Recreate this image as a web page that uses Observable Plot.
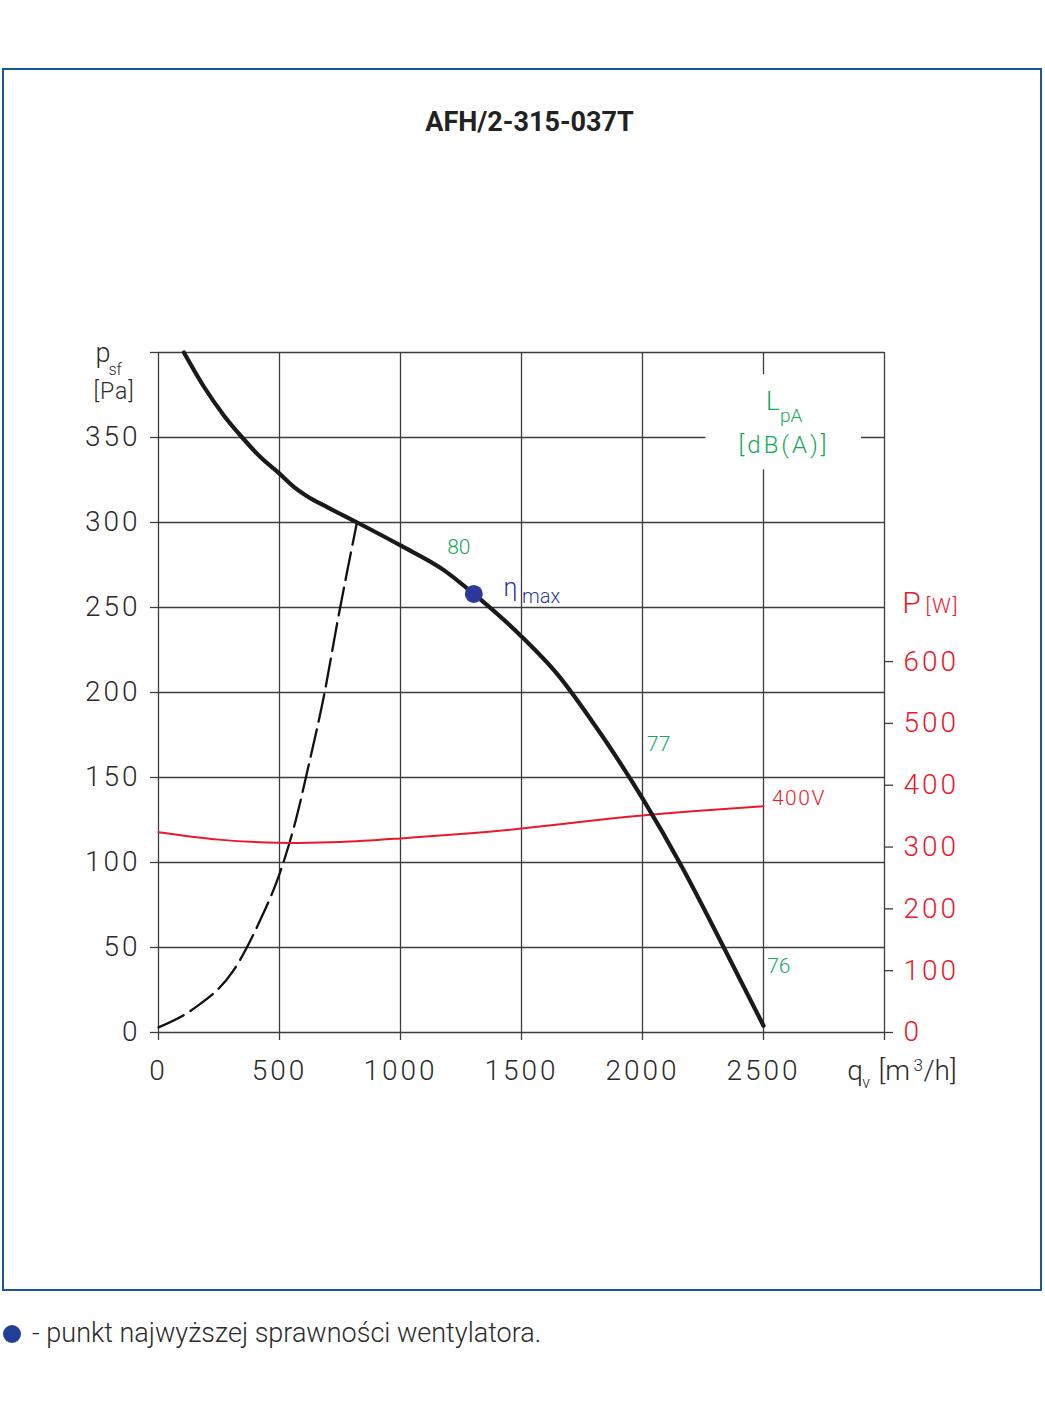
<!DOCTYPE html>
<html>
<head>
<meta charset="utf-8">
<script src="https://cdn.jsdelivr.net/npm/d3@7"></script>
<script src="https://cdn.jsdelivr.net/npm/@observablehq/plot@0.6"></script>
<style>
  html, body { margin: 0; padding: 0; background: #fff; }
  body { width: 1045px; height: 1415px; position: relative; overflow: hidden; font-family: Roboto, "DejaVu Sans", sans-serif; }
  #frame { position: absolute; left: 2px; top: 68px; width: 1040px; height: 1223px; box-sizing: border-box; border: 2px solid #1d5696; }
  #title { position: absolute; left: 0; width: 1059px; top: 108px; line-height: 28px; text-align: center; font-weight: 700; font-size: 27px; color: #222; }
  #chart { position: absolute; left: 0; top: 300px; }
  #caption { position: absolute; left: 3px; top: 1320px; line-height: 27px; font-size: 27px; font-weight: 300; color: #2b2b2b; white-space: nowrap; }
  #caption .dot { display: inline-block; width: 18px; height: 18px; border-radius: 50%; background: #22409a; vertical-align: -1px; margin-right: 11px; }
</style>
</head>
<body>
<div id="frame"></div>
<div id="title">AFH/2-315-037T</div>
<div id="chart"></div>
<div id="caption"><span class="dot"></span>- punkt najwyższej sprawności wentylatora.</div>
<script>
// ---- tick values ----
const qTicks = [0, 500, 1000, 1500, 2000, 2500, 3000];
const pTicks = [0, 50, 100, 150, 200, 250, 300, 350, 400];
const wTicks = [0, 100, 200, 300, 400, 500, 600];

// ---- fan curve: static pressure psf [Pa] vs flow qv [m3/h] ----
const fanQ = [105, 187, 270, 346, 421, 501, 559, 614, 697, 821, 1000, 1179, 1303, 1500, 1647, 1826, 2005, 2157, 2336, 2500];
const fanP = [400, 380, 363, 350, 338.5, 328.6, 321, 315.5, 309, 300, 286.5, 272, 258, 233, 211, 176, 136.5, 99, 50, 4];

// ---- dashed system curve ----
const sysQ = [0, 150, 310, 420, 502, 560, 625, 685, 740, 820];
const sysP = [3, 14.5, 36.5, 66, 94, 121, 160, 199, 242, 300];

// ---- power consumption P [W] (400V) ----
const powQ = [0, 250, 500, 750, 1000, 1250, 1500, 1750, 2000, 2250, 2500];
const powW = [324, 312, 307, 308, 314, 321, 330, 341, 351, 359, 366];

// ---- max efficiency point ----
const etaQ = 1303, etaP = 258;

// ---- sound level labels LpA [dB(A)] ----
const lpaText = ["80", "77", "76"];
const lpaQ = [1193, 2019, 2515];
const lpaP = [281.2, 165.3, 34.9];

// watt per pascal of the right-hand axis
const W_PER_PA = 2.75;

const fan = fanQ.map((q, i) => ({q, p: fanP[i]}));
const sys = sysQ.map((q, i) => ({q, p: sysP[i]}));
const power = powQ.map((q, i) => ({q, w: powW[i]}));
const lpa = lpaText.map((t, i) => ({t, q: lpaQ[i], p: lpaP[i]}));

const GRID = "#3d3d3d", TXT = "#2b2b2b", RED = "#e8192c", GREEN = "#16a85a", BLUE = "#2b3a9a";

const lbl = (q, p, text, o) => Plot.text([{q, p}], {x: "q", y: "p", text: () => text, textAnchor: "start", lineAnchor: "bottom", ...o});

const chart = Plot.plot({
  width: 1045, height: 820,
  marginLeft: 158, marginRight: 161, marginTop: 52, marginBottom: 88,
  x: {domain: [0, 3000], label: null},
  y: {domain: [0, 400], label: null},
  style: {fontFamily: "Roboto, 'DejaVu Sans', sans-serif", fontSize: "28px", fontWeight: 300, color: TXT, background: "transparent", overflow: "visible"},
  marks: [
    Plot.gridX(qTicks, {stroke: GRID, strokeOpacity: 1, strokeWidth: 1.3}),
    Plot.gridY(pTicks, {stroke: GRID, strokeOpacity: 1, strokeWidth: 1.3}),
    Plot.rect([{q1: 2262, q2: 2905, p1: 331, p2: 387}], {x1: "q1", x2: "q2", y1: "p1", y2: "p2", fill: "white"}),
    Plot.axisX(qTicks, {tickSize: 8, tickPadding: 20, tickFormat: d => d === 3000 ? "" : String(d), stroke: GRID, strokeWidth: 1.3, fill: TXT, fontSize: 28, label: null}),
    Plot.axisY(pTicks, {anchor: "left", tickSize: 8, tickPadding: 10, tickFormat: d => d === 400 ? "" : String(d), stroke: GRID, strokeWidth: 1.3, fill: TXT, fontSize: 28, label: null}),
    Plot.axisY(wTicks.map(w => w / W_PER_PA), {anchor: "right", tickSize: 8, tickPadding: 11, tickFormat: d => String(Math.round(d * W_PER_PA)), stroke: GRID, strokeWidth: 1.3, fill: RED, fontSize: 28, label: null}),
    Plot.line(sys, {x: "q", y: "p", stroke: "#111", strokeWidth: 2.3, strokeDasharray: "28,8", curve: "monotone-x"}),
    Plot.line(power, {x: "q", y: d => d.w / W_PER_PA, stroke: RED, strokeWidth: 2, curve: "natural"}),
    Plot.line(fan, {x: "q", y: "p", stroke: "#1a1a1a", strokeWidth: 4.2, curve: "monotone-x"}),
    Plot.dot([{q: etaQ, p: etaP}], {x: "q", y: "p", r: 9, fill: BLUE, stroke: "none"}),
    Plot.text(lpa, {x: "q", y: "p", text: "t", textAnchor: "start", lineAnchor: "bottom", fill: GREEN, fontSize: 21}),
    lbl(2535, 134, "400V", {fill: RED, fontSize: 21}),
    lbl(1426, 256.5, "η", {fill: BLUE, fontSize: 25}),
    lbl(1502, 252.4, "max", {fill: BLUE, fontSize: 20}),
    lbl(2510, 366, "L", {fill: GREEN, fontSize: 26}),
    lbl(2568, 359.2, "pA", {fill: GREEN, fontSize: 19}),
    lbl(2585, 340.6, "[dB(A)]", {fill: GREEN, fontSize: 24, textAnchor: "middle"}),
    lbl(3073, 246.5, "P", {fill: RED, fontSize: 30}),
    lbl(3169, 247, "[W]", {fill: RED, fontSize: 21}),
    lbl(-260, 394.7, "p", {fill: TXT, fontSize: 27}),
    lbl(-207, 386.5, "sf", {fill: TXT, fontSize: 16}),
    lbl(-269, 372.4, "[Pa]", {fill: TXT, fontSize: 23}),
    lbl(2846, -28.2, "q", {fill: TXT, fontSize: 28}),
    lbl(2908, -32.9, "v", {fill: TXT, fontSize: 16}),
    lbl(2975, -28.2, "[m", {fill: TXT, fontSize: 28}),
    lbl(3120, -22.9, "3", {fill: TXT, fontSize: 17}),
    lbl(3161, -28.2, "/h]", {fill: TXT, fontSize: 28})
  ]
});

const sel = d3.select(chart);
sel.selectAll('[aria-label$="tick label"] text').attr("letter-spacing", 3);
const spacing = {"[dB(A)]": 3, "400V": 1.5, "[W]": 1.5, "[Pa]": 1};
sel.selectAll("text").each(function() {
  const s = spacing[this.textContent];
  if (s) d3.select(this).attr("letter-spacing", s);
});
document.getElementById("chart").appendChild(chart);
</script>
</body>
</html>
